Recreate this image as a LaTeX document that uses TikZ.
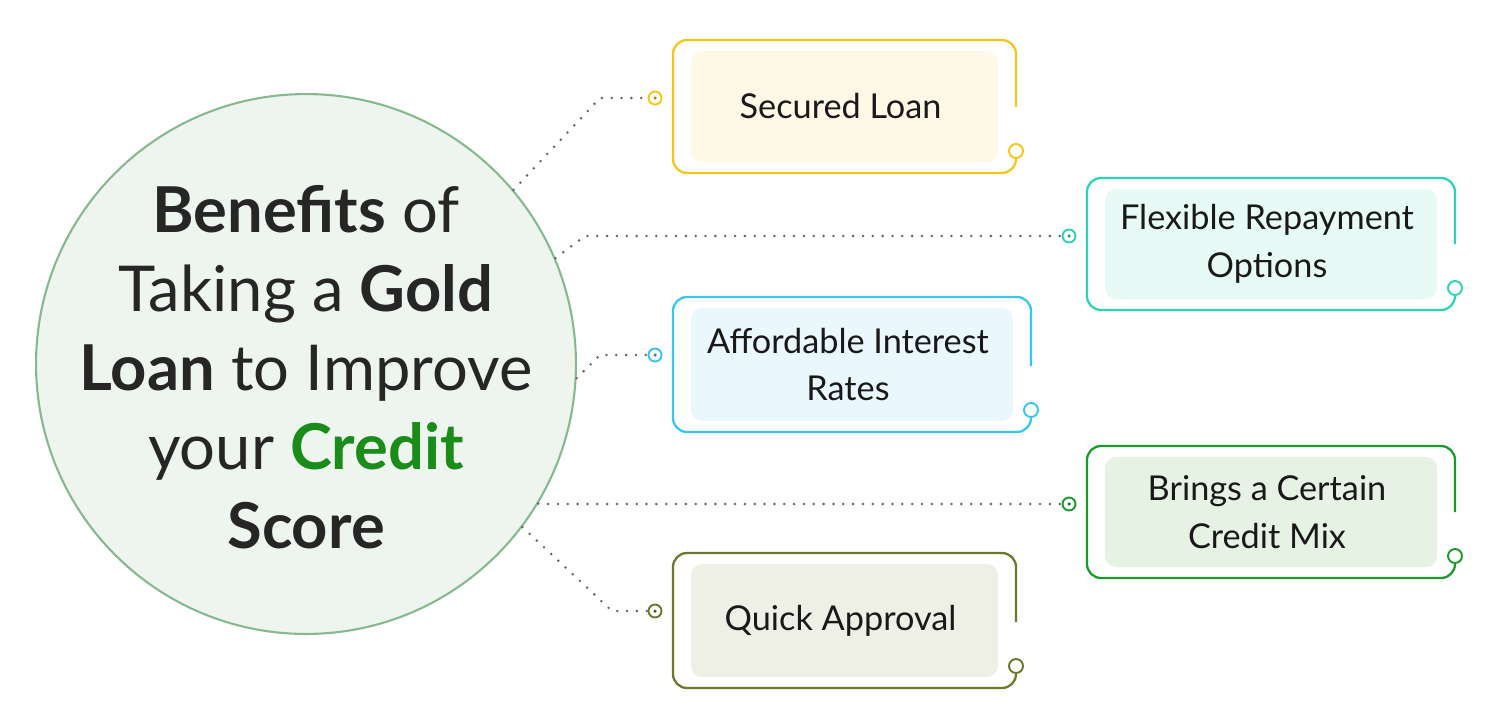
\documentclass[tikz,border=0pt]{standalone}
\usepackage{fontspec}
\setmainfont{Lato}
\definecolor{secc}{HTML}{F5C518}\definecolor{secf}{HTML}{FEF8E6}
\definecolor{flxc}{HTML}{2ED3B7}\definecolor{flxf}{HTML}{E8FAF6}
\definecolor{affc}{HTML}{38C6F0}\definecolor{afff}{HTML}{EAF7FC}
\definecolor{mixc}{HTML}{1A9A2A}\definecolor{mixf}{HTML}{E6F3E4}
\definecolor{qckc}{HTML}{6B7A2A}\definecolor{qckf}{HTML}{EEF0E6}
\definecolor{goldgreen}{HTML}{1A8C1A}
\definecolor{hubf}{HTML}{EEF5EF}\definecolor{hubc}{HTML}{88B890}
\begin{document}
\begin{tikzpicture}[x=0.02cm,y=-0.02cm,
  hub/.style={draw=hubc, fill=hubf, line width=1.2pt, circle},
  frame/.style={line width=1.3pt, rounded corners=0.28cm},
  inbox/.style={rounded corners=0.22cm},
  label/.style={font=\fontsize{19.5}{27}\selectfont, align=center, text=black!90},
  dotline/.style={gray!80!black, line width=1.6pt, line cap=round, dash pattern=on 0pt off 5.6pt},
  pin/.style={circle, draw, line width=1.1pt, fill=white, inner sep=0pt, minimum size=0.28cm}]
\useasboundingbox (0,0) rectangle (1500,714);
% the hub
\node[hub, minimum size=10.8cm] (c) at (306,364) {};
\node[font=\fontsize{36}{45}\selectfont, align=center, text=black!85] (title) at (306,367)
  {\textbf{Benefits} of\\Taking a \textbf{Gold}\\\textbf{Loan} to Improve\\your \textbf{\color{goldgreen}Credit}\\\textbf{Score}};
% the benefits
\foreach \n/\xa/\ya/\xb/\yb/\col/\bg/\ang/\bx/\txt in {
  sec/673/40/1016/173/secc/secf/40/600/{Secured Loan},
  flx/1087/178/1455/310/flxc/flxf/23/585/{Flexible Repayment\\Options},
  aff/673/297/1031/432/affc/afff/-3/600/{Affordable Interest\\Rates},
  mix/1087/446/1455/578/mixc/mixf/-31/545/{Brings a Certain\\Credit Mix},
  qck/673/553/1016/688/qckc/qckf/-37/612/{Quick Approval}}
{
  \fill[\bg, inbox] (\xa+18,\ya+11) rectangle (\xb-18,\yb-11);
  \draw[\col, frame] (\xb,\yb-66) -- (\xb,\ya) -- (\xa,\ya) -- (\xa,\yb) -- (\xb,\yb) -- (\xb,\yb-16);
  \node[pin, draw=\col] (e\n) at (\xb,\yb-22) {};
  \node[label] (b\n) at ({(\xa+\xb)/2-4},{(\ya+\yb)/2}) {\txt};
  \node[pin, draw=\col, minimum size=0.26cm] (d\n) at (\xa-18,\ya+58) {};
  \fill[\col!70!black] (d\n) circle (0.035cm);
  \draw[dotline] (c.\ang) -- (\bx,\ya+58) -- (d\n.west);
}
\end{tikzpicture}
\end{document}
